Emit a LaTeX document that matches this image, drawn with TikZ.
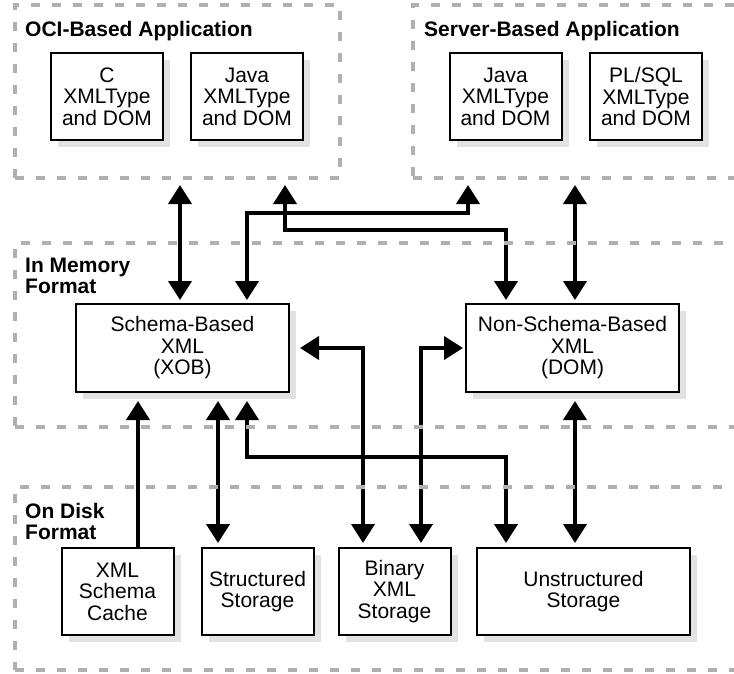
\documentclass[tikz,border=0pt]{standalone}
\usepackage{fontspec}
\setmainfont{Liberation Sans}
\usetikzlibrary{arrows.meta,shadows}
\definecolor{dashgray}{HTML}{B0B0B0}
\definecolor{shadowgray}{HTML}{E2E2E2}
\pgfdeclarelayer{front}
\pgfsetlayers{main,front}
\begin{document}
\begin{tikzpicture}[x=1pt,y=-1pt,
  group/.style={draw=dashgray, line width=4pt, dash pattern=on 9pt off 12pt, inner sep=0pt, outer sep=0pt},
  box/.style={draw=black, line width=2pt, fill=white, inner sep=0pt, outer sep=0pt, align=center,
    font=\fontsize{21}{21.5}\selectfont,
    drop shadow={shadow xshift=7pt, shadow yshift=-7pt, fill=shadowgray, opacity=1}},
  smallbox/.style={box, minimum width=112pt, minimum height=87pt},
  widebox/.style={box, minimum width=213pt, minimum height=88pt},
  lbl/.style={font=\fontsize{21}{21}\selectfont\bfseries, align=left, anchor=north west, inner sep=0pt},
  dbl/.style={line width=4pt, {Triangle[width=23pt,length=19pt]}-{Triangle[width=23pt,length=19pt]}},
  sgl/.style={line width=4pt, -{Triangle[width=23pt,length=19pt]}}
]
\useasboundingbox (0,0) rectangle (734,673);
\clip (0,0) rectangle (734,673);

% group frames (drawn on top layer)
\begin{pgfonlayer}{front}
\node[group, minimum width=325pt, minimum height=173pt] (oci) at (177.5,91.5) {};
\node[group, minimum width=347pt, minimum height=173pt] (server) at (586.5,91.5) {};
\node[group, minimum width=745pt, minimum height=184pt] (mem) at (387.5,335) {};
\node[group, minimum width=745pt, minimum height=183pt] (disk) at (387.5,578.5) {};
\end{pgfonlayer}

% labels
\node[lbl] (l1) at (25,21) {OCI-Based Application};
\node[lbl] (l2) at (424,21) {Server-Based Application};
\node[lbl] (l3) at (25,258) {In Memory\\Format};
\node[lbl] (l4) at (25,503) {On Disk\\Format};

% boxes
\node[smallbox] (cdom) at (107,96.5) {C\\XMLType\\and DOM};
\node[smallbox] (jdom) at (247,96.5) {Java\\XMLType\\and DOM};
\node[smallbox] (sjdom) at (505.5,96.5) {Java\\XMLType\\and DOM};
\node[smallbox] (pldom) at (646,96.5) {PL/SQL\\XMLType\\and DOM};
\node[widebox] (schema) at (182.5,348) {Schema-Based\\XML\\(XOB)};
\node[widebox] (nonschema) at (572.5,348) {Non-Schema-Based\\XML\\(DOM)};
\node[smallbox] (cache) at (117.5,591.5) {XML\\Schema\\Cache};
\node[smallbox] (structured) at (257.5,591.5) {Structured\\Storage};
\node[smallbox] (binary) at (394.5,591.5) {Binary\\XML\\Storage};
\node[box, minimum width=213pt, minimum height=87pt] (unstructured) at (583.5,591.5) {Unstructured\\Storage};

% connectors
\draw[dbl, shorten <=7pt, shorten >=4pt] (180,0 |- oci.south) -- (180,0 |- schema.north);
\draw[dbl, shorten <=7pt, shorten >=4pt] (285,0 |- oci.south) -- (285,230) -- (506,230) -- (506,0 |- nonschema.north);
\draw[dbl, shorten <=7pt, shorten >=4pt] (468,0 |- server.south) -- (468,213) -- (247,213) -- (247,0 |- schema.north);
\draw[dbl, shorten <=7pt, shorten >=4pt] (575,0 |- server.south) -- (575,0 |- nonschema.north);
\draw[sgl, shorten >=9pt] (138,0 |- cache.north) -- (138,0 |- schema.south);
\draw[dbl, shorten <=5pt, shorten >=9pt] (218,0 |- structured.north) -- (218,0 |- schema.south);
\draw[dbl, shorten <=9pt, shorten >=5pt] (247,0 |- schema.south) -- (247,457) -- (506,457) -- (506,0 |- unstructured.north);
\draw[dbl, shorten <=5pt, shorten >=11pt] (363,0 |- binary.north) -- (363,0 |- schema.east) -- (schema.east);
\draw[dbl, shorten <=5pt, shorten >=3pt] (421,0 |- binary.north) -- (421,0 |- nonschema.west) -- (nonschema.west);
\draw[dbl, shorten <=9pt, shorten >=5pt] (575,0 |- nonschema.south) -- (575,0 |- unstructured.north);
\end{tikzpicture}
\end{document}
